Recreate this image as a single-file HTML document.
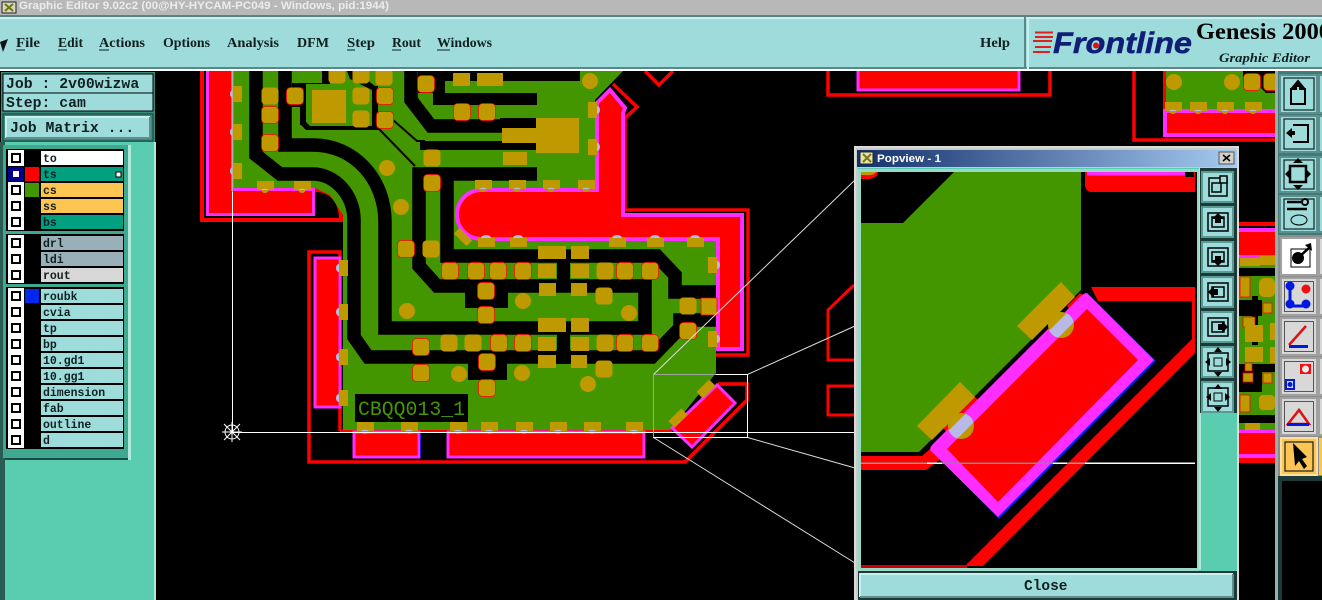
<!DOCTYPE html>
<html><head><meta charset="utf-8"><style>
html,body{margin:0;padding:0;background:#000;width:1322px;height:600px;overflow:hidden}
svg{display:block}
.m{font-family:"Liberation Mono",monospace;font-weight:bold}
.s{font-family:"Liberation Serif",serif;font-weight:bold}
.l{font-family:"Liberation Mono",monospace;font-weight:bold;font-size:11.5px;fill:#102020}
.n{font-family:"Liberation Serif",serif;font-weight:bold;font-size:14px;fill:#102020}
</style></head><body>
<svg width="1322" height="600" viewBox="0 0 1322 600" xmlns="http://www.w3.org/2000/svg">
<defs>
<rect id="p" x="-8.500" y="-8.500" width="17" height="17" rx="4" fill="#bf9900"/>
<rect id="q" x="-8.500" y="-8.500" width="17" height="17" rx="4" fill="#bf9900" stroke="#f00" stroke-width=".7"/>
<circle id="v" r="8" fill="#bf9900"/>
<g id="hb"><circle cy="3" r="4" fill="#bf9900"/><rect x="-8" y="-5" width="17" height="9" fill="#bf9900"/><path d="M-4,4 A5,3 0 0 1 4,4Z" fill="#b9b9e8"/></g>
<g id="ht"><rect x="-8" y="-5" width="17" height="9" fill="#bf9900"/><path d="M-5,-5 A5,3 0 0 1 5,-5Z" fill="#b9b9e8"/></g>
<g id="vl"><rect x="-4" y="-8" width="9" height="16" fill="#bf9900"/><path d="M-4,-4 A3,4 0 0 0 -4,4Z" fill="#b9b9e8"/></g>
<g id="vr"><rect x="-5" y="-8" width="9" height="16" fill="#bf9900"/><path d="M4,-4 A3,4 0 0 1 4,4Z" fill="#b9b9e8"/></g>
<clipPath id="strip"><path d="M1087,293 L1155,360 L998,518 L930,449Z M1087,309 L947,449 L998,502 L1138,360Z" clip-rule="evenodd"/></clipPath>
<linearGradient id="tb" x1="0" x2="1"><stop offset="0" stop-color="#14306c"/><stop offset="1" stop-color="#a6caf0"/></linearGradient>
</defs>
<rect width="1322" height="600" fill="#000"/>

<!-- BOARD top-right items -->
<path d="M645,71 L659,85 L673,71" fill="none" stroke="#f00" stroke-width="3.500"/>
<path d="M828,71 V95 H1050 V71" fill="none" stroke="#f00" stroke-width="3.500"/>
<rect x="858" y="71" width="162" height="20" fill="#f00"/>
<path d="M858,71 V90 H1019 V71" fill="none" stroke="#ff2dff" stroke-width="3"/>
<path d="M1134,71 V140 H1278" fill="none" stroke="#f00" stroke-width="3.500"/>
<rect x="1163" y="71" width="3" height="40" fill="#f00"/>
<rect x="1166" y="71" width="112" height="39" fill="#449600"/>
<path d="M1243,71 h35 v22 h-12 l-7,-7 h-16Z" fill="#000"/>
<rect x="1163" y="109" width="115" height="28" fill="#ff2dff"/>
<rect x="1167" y="113" width="111" height="20" fill="#f00"/>
<use href="#v" x="1174" y="82"/><use href="#v" x="1232" y="82"/><use href="#q" x="1252" y="82"/><use href="#q" x="1272" y="82"/>
<use href="#hb" x="1173" y="107"/><use href="#hb" x="1198" y="107"/><use href="#hb" x="1225" y="107"/><use href="#hb" x="1253" y="107"/>

<!-- Left L -->
<path d="M202,71 V220 H341 C341,200 330,190 315,190" fill="none" stroke="#f00" stroke-width="4"/>
<path d="M206,71 H234 V188 H315 V216 H206Z" fill="#f00"/>
<path d="M207.500,71 V214.500 H313.500 V189.500 H232.500 V71" fill="none" stroke="#ff2dff" stroke-width="3"/>

<!-- Red outline around bottom -->
<path d="M340,431 V252 H309 V462 H685 L747,400 V384 H718" fill="none" stroke="#f00" stroke-width="3.500"/>
<path d="M340,431 H672" stroke="#f00" stroke-width="3"/>
<path d="M613,84 L637,107 L625,118 V210 H748 V355 H716" fill="none" stroke="#f00" stroke-width="3.500"/>

<!-- Green base -->
<path d="M234,71 H623 L595,100 V188 H595 V240 H716 V373 L670,430 H343 V215 L330,195 L315,188 H234Z" fill="#449600"/>

<!-- Black traces -->
<g fill="none" stroke="#000" stroke-width="13.500" stroke-linejoin="miter">
<path d="M256,71 V155 L280,174 H313 C335,174 354,195 354,220 V337 L368,357 H652 L680,328 V320 H716"/>
<path d="M285,71 V145 H313 C355,145 385,180 385,222 V328 H645 V286 H437 L419,266 V174 H537"/>
<path d="M447,172 V256 H657 L675,275 V292 H716"/>
<path d="M411,71 V100 L431,126 H503"/>
</g>
<g fill="#000">
<rect x="418" y="71" width="162" height="10"/>
<rect x="418" y="71" width="27" height="22"/>
<rect x="433" y="93" width="104" height="12"/>
<rect x="420" y="141" width="117" height="9"/>
<rect x="557" y="256" width="13" height="34"/>
<rect x="557" y="332" width="13" height="32"/>
<rect x="465" y="290" width="43" height="18"/>
<rect x="468" y="360" width="39" height="20"/>
<rect x="292" y="83" width="14" height="24"/>
<rect x="300" y="83" width="6" height="42"/>
<path d="M300,83 H322 V71 H330 V84 H306 V122 L310,126 H378 V130 H306 L300,124Z"/>
<path d="M347,71 H355 L375,86 H378 V128 H372 V90 L350,79Z"/>
<rect x="500" y="118" width="37" height="10"/>
</g>
<g fill="none" stroke="#000" stroke-width="2">
<path d="M393,120 L417,141 H425"/>
<path d="M378,128 L415,166"/>
</g>

<!-- Pill (red+magenta) -->
<path d="M480,190 H597 V103 L610,90 L625,108 L623,113 V215 H742 V349 H718 V239 H483 A24.500,24.500 0 0 1 480,190Z" fill="#f00" stroke="#ff2dff" stroke-width="4"/>

<!-- Left strip and bottom bars -->
<rect x="315" y="258" width="25" height="149" fill="#f00" stroke="#ff2dff" stroke-width="3"/>
<rect x="354" y="432" width="65" height="25" fill="#f00" stroke="#ff2dff" stroke-width="3"/>
<rect x="448" y="432" width="196" height="25" fill="#f00" stroke="#ff2dff" stroke-width="3"/>
<path d="M420.500,432 V458 M645.500,432 V458" stroke="#2020e0"/>
<path d="M672,428 L717,385 L735,403 L692,447Z" fill="#f00" stroke="#ff2dff" stroke-width="3"/>

<!-- Pads upper -->
<use href="#v" x="387" y="168"/><use href="#v" x="401" y="207"/><use href="#v" x="407" y="311"/>
<use href="#v" x="523" y="301"/><use href="#v" x="629" y="313"/><use href="#v" x="459" y="374"/>
<use href="#v" x="522" y="373"/><use href="#v" x="588" y="384"/><use href="#v" x="590" y="81"/>
<use href="#p" x="270" y="96"/><use href="#q" x="270" y="115"/><use href="#q" x="270" y="143"/>
<use href="#q" x="295" y="96"/><use href="#p" x="361" y="96"/><use href="#p" x="361" y="119"/>
<use href="#q" x="385" y="96"/><use href="#q" x="385" y="120"/><use href="#p" x="384" y="77"/><use href="#p" x="361" y="75"/><use href="#p" x="337" y="75"/>
<use href="#q" x="426" y="84"/><use href="#q" x="462" y="112"/><use href="#q" x="487" y="112"/>
<use href="#p" x="432" y="158"/><use href="#q" x="432" y="183"/>
<use href="#q" x="406" y="249"/><use href="#p" x="431" y="249"/>
<rect x="312" y="90" width="34" height="33" fill="#bf9900"/>
<rect x="453" y="73" width="17" height="13" fill="#bf9900"/><rect x="477" y="73" width="26" height="13" fill="#bf9900"/>
<rect x="503" y="152" width="24" height="13" fill="#bf9900"/>
<path d="M502,128 H536 V118 H579 V153 H536 V143 H502Z" fill="#bf9900"/>

<!-- Row pads -->
<use href="#q" x="450" y="271"/><use href="#q" x="476" y="271"/><use href="#q" x="498" y="271"/><use href="#q" x="523" y="271"/><use href="#p" x="605" y="271"/><use href="#q" x="625" y="271"/><use href="#q" x="650" y="271"/>
<use href="#q" x="486" y="291"/><use href="#q" x="486" y="315"/><use href="#p" x="604" y="296"/>
<use href="#p" x="688" y="306"/><rect x="701" y="298" width="16" height="17" fill="#bf9900" stroke="#f00" stroke-width=".8"/><use href="#q" x="688" y="331"/>
<use href="#q" x="421" y="347"/><use href="#p" x="449" y="343"/><use href="#p" x="473" y="343"/><use href="#q" x="499" y="343"/><use href="#q" x="523" y="343"/><use href="#p" x="605" y="343"/><use href="#q" x="625" y="343"/><use href="#q" x="650" y="343"/>
<use href="#q" x="487" y="362"/><use href="#q" x="421" y="373"/><use href="#q" x="487" y="388"/><use href="#p" x="604" y="369"/>
<g fill="#bf9900">
<rect x="538" y="246" width="28" height="13"/><rect x="571" y="246" width="18" height="13"/>
<rect x="538" y="264" width="18" height="14"/><rect x="571" y="264" width="18" height="14"/>
<rect x="539" y="283" width="17" height="13"/><rect x="571" y="283" width="16" height="13"/>
<rect x="538" y="318" width="28" height="14"/><rect x="571" y="318" width="18" height="14"/>
<rect x="538" y="337" width="18" height="14"/><rect x="571" y="337" width="18" height="14"/>
<rect x="538" y="355" width="18" height="13"/><rect x="571" y="355" width="16" height="13"/>
<rect x="-9" y="-4" width="18" height="8" transform="translate(463,237) rotate(45)"/>
<rect x="-9" y="-4.500" width="18" height="9" transform="translate(678,418) rotate(-45)"/>
<rect x="-9" y="-4.500" width="18" height="9" transform="translate(706,389) rotate(-45)"/>
</g>
<!-- Edge pads -->
<use href="#vl" x="237" y="94"/><use href="#vl" x="237" y="132"/><use href="#vl" x="237" y="171"/>
<use href="#hb" x="265" y="186"/><use href="#hb" x="302" y="186"/>
<use href="#vl" x="343" y="268"/><use href="#vl" x="343" y="312"/><use href="#vl" x="343" y="357"/><use href="#vl" x="343" y="398"/>
<use href="#hb" x="365" y="427"/><use href="#hb" x="409" y="427"/><use href="#hb" x="458" y="427"/><use href="#hb" x="489" y="427"/><use href="#hb" x="524" y="427"/><use href="#hb" x="558" y="427"/><use href="#hb" x="592" y="427"/><use href="#hb" x="634" y="427"/>
<use href="#hb" x="483" y="185"/><use href="#hb" x="517" y="185"/><use href="#hb" x="551" y="185"/><use href="#hb" x="586" y="185"/>
<use href="#ht" x="486" y="243"/><use href="#ht" x="518" y="243"/><use href="#ht" x="617" y="243"/><use href="#ht" x="655" y="243"/><use href="#ht" x="695" y="243"/>
<use href="#vr" x="593" y="110"/><use href="#vr" x="593" y="147"/>
<use href="#vr" x="713" y="265"/><use href="#vr" x="713" y="339"/>

<!-- Label -->
<rect x="355" y="394" width="113" height="28" fill="#000"/>
<text x="358" y="415" font-family="Liberation Mono,monospace" font-size="20" fill="#449600" textLength="107" lengthAdjust="spacingAndGlyphs">CBQQ013_1</text>

<!-- Right board behind popup -->
<rect x="1238" y="222" width="40" height="4" fill="#f00"/>
<rect x="1238" y="228" width="40" height="30" fill="#ff2dff"/>
<rect x="1238" y="232" width="40" height="23" fill="#f00"/>
<rect x="1238" y="258" width="40" height="172" fill="#449600"/>
<path d="M1238,268 H1278 V276 H1238ZM1252,296 H1258 V345 H1252ZM1238,300 H1262 V316 H1238ZM1238,364 H1278 V372 H1262 V392 H1238ZM1238,415 H1278 V423 H1238Z" fill="#000"/>
<g fill="#bf9900">
<rect x="1240" y="258" width="20" height="8"/><rect x="1260" y="256" width="15" height="9"/>
<rect x="1240" y="277" width="10" height="20" stroke="#f00" stroke-width=".8"/><rect x="1259" y="278" width="16" height="19" rx="5"/>
<rect x="1263" y="303" width="9" height="10" stroke="#f00" stroke-width=".8"/>
<rect x="1243" y="317" width="12" height="10" stroke="#f00" stroke-width=".8"/>
<rect x="1245" y="325" width="18" height="17"/><rect x="1245" y="347" width="18" height="15"/>
<rect x="1270" y="323" width="6" height="17"/><rect x="1270" y="347" width="6" height="16"/>
<rect x="1245" y="363" width="7" height="8" stroke="#f00" stroke-width=".8"/><rect x="1243" y="373" width="10" height="9" stroke="#f00" stroke-width=".8"/>
<rect x="1263" y="373" width="9" height="10" stroke="#f00" stroke-width=".8"/>
<rect x="1240" y="395" width="10" height="17" stroke="#f00" stroke-width=".8"/><rect x="1259" y="395" width="16" height="15" rx="4"/>
<rect x="1245" y="423" width="15" height="8"/>
</g>
<rect x="1238" y="430" width="40" height="3" fill="#ff2dff"/>
<rect x="1238" y="433" width="40" height="21" fill="#f00"/>
<rect x="1238" y="454" width="40" height="4" fill="#ff2dff"/>
<rect x="1238" y="458" width="40" height="5" fill="#f00"/>

<!-- Other outline bits -->
<path d="M854,285 L828,310 V360 H854M854,386 H828 V415 H854" fill="none" stroke="#f00" stroke-width="3"/>

<!-- Guide lines -->
<g fill="none" stroke-width="1">
<path d="M232.500,71 V192" stroke="#b0b0b0"/>
<path d="M232.500,192 V433" stroke="#fff"/>
<path d="M233,432.500 H855" stroke="#fff"/>
<path d="M653.500,374.500 L855,180" stroke="#ddd"/>
<path d="M747.500,374.500 L855,326" stroke="#ddd"/>
<path d="M747.500,437.500 L855,468" stroke="#ddd"/>
<path d="M653.500,437.500 L855,563" stroke="#ddd"/>
<rect x="653.500" y="374.500" width="94" height="63" stroke="#fff"/>
<path d="M653.500,437 V374.500 H716" stroke="#98a8a0"/>
<circle cx="232" cy="432" r="7" stroke="#fff"/>
<path d="M224,424 L240,440 M240,424 L224,440 M222,432 H242 M232,422 V442" stroke="#fff"/>
</g>

<!-- Left panel -->
<rect x="0" y="70" width="155" height="530" fill="#000"/>
<rect x="1" y="72" width="154" height="70" fill="#3a8a78"/>
<rect x="0" y="142" width="155" height="458" fill="#5accb0"/>
<rect x="154" y="142" width="2" height="458" fill="#b0e8dc"/>
<rect x="0" y="142" width="5" height="458" fill="#2a5c54"/>
<rect x="128" y="145" width="3" height="315" fill="#b0e8dc"/>
<rect x="5" y="458" width="123" height="2" fill="#1e4a44"/>
<rect x="3" y="145" width="125" height="313" fill="#3fa890"/>
<rect x="3" y="74" width="150" height="19" fill="#9edcdc" stroke="#000"/>
<rect x="3" y="93" width="150" height="18" fill="#9edcdc" stroke="#000"/>
<text class="m" x="6" y="88" font-size="14.800" fill="#102020">Job : 2v00wizwa</text>
<text class="m" x="6" y="107" font-size="14.800" fill="#102020">Step: cam</text>
<rect x="3" y="114" width="150" height="27" fill="#3a8a78" stroke="#143c38"/>
<rect x="6" y="117" width="144" height="21" fill="#9edcdc"/>
<path d="M6,138 V117 H150" fill="none" stroke="#c8f0f0" stroke-width="2"/>
<path d="M150,117 V138 H6" fill="none" stroke="#5a9090" stroke-width="2"/>
<text class="m" x="10" y="132" font-size="14.800" fill="#102020">Job Matrix ...</text>

<!-- Layer groups -->
<rect x="6" y="149" width="118" height="82" fill="#000"/>
<rect x="6" y="234" width="118" height="50" fill="#000"/>
<rect x="6" y="287" width="118" height="162" fill="#000"/>
<g id="rows">
<rect x="41" y="151" width="82" height="14" fill="#fff"/><text class="l" x="43" y="162">to</text>
<rect x="41" y="167" width="82" height="14" fill="#00a080"/><text class="l" x="43" y="178">ts</text>
<rect x="41" y="183" width="82" height="14" fill="#ffc552"/><text class="l" x="43" y="194">cs</text>
<rect x="41" y="199" width="82" height="14" fill="#ffc552"/><text class="l" x="43" y="210">ss</text>
<rect x="41" y="215" width="82" height="14" fill="#00a080"/><text class="l" x="43" y="226">bs</text>
<rect x="41" y="236" width="82" height="14" fill="#9ab0b8"/><text class="l" x="43" y="247">drl</text>
<rect x="41" y="252" width="82" height="14" fill="#9ab0b8"/><text class="l" x="43" y="263">ldi</text>
<rect x="41" y="268" width="82" height="14" fill="#d8d8d8"/><text class="l" x="43" y="279">rout</text>
<rect x="41" y="289" width="82" height="14" fill="#9edcdc"/><text class="l" x="43" y="300">roubk</text>
<rect x="41" y="305" width="82" height="14" fill="#9edcdc"/><text class="l" x="43" y="316">cvia</text>
<rect x="41" y="321" width="82" height="14" fill="#9edcdc"/><text class="l" x="43" y="332">tp</text>
<rect x="41" y="337" width="82" height="14" fill="#9edcdc"/><text class="l" x="43" y="348">bp</text>
<rect x="41" y="353" width="82" height="14" fill="#9edcdc"/><text class="l" x="43" y="364">10.gd1</text>
<rect x="41" y="369" width="82" height="14" fill="#9edcdc"/><text class="l" x="43" y="380">10.gg1</text>
<rect x="41" y="385" width="82" height="14" fill="#9edcdc"/><text class="l" x="43" y="396">dimension</text>
<rect x="41" y="401" width="82" height="14" fill="#9edcdc"/><text class="l" x="43" y="412">fab</text>
<rect x="41" y="417" width="82" height="14" fill="#9edcdc"/><text class="l" x="43" y="428">outline</text>
<rect x="41" y="433" width="82" height="14" fill="#9edcdc"/><text class="l" x="43" y="444">d</text>
</g>
<g fill="none" stroke="#fff" stroke-width="3">
<rect x="9.500" y="151.500" width="13" height="13"/><rect x="9.500" y="183.500" width="13" height="13"/><rect x="9.500" y="199.500" width="13" height="13"/><rect x="9.500" y="215.500" width="13" height="13"/>
<rect x="9.500" y="236.500" width="13" height="13"/><rect x="9.500" y="252.500" width="13" height="13"/><rect x="9.500" y="268.500" width="13" height="13"/>
<rect x="9.500" y="289.500" width="13" height="13"/><rect x="9.500" y="305.500" width="13" height="13"/><rect x="9.500" y="321.500" width="13" height="13"/><rect x="9.500" y="337.500" width="13" height="13"/><rect x="9.500" y="353.500" width="13" height="13"/><rect x="9.500" y="369.500" width="13" height="13"/><rect x="9.500" y="385.500" width="13" height="13"/><rect x="9.500" y="401.500" width="13" height="13"/><rect x="9.500" y="417.500" width="13" height="13"/><rect x="9.500" y="433.500" width="13" height="13"/>
</g>
<g fill="#fff">
<rect x="13" y="155" width="6" height="6"/><rect x="13" y="187" width="6" height="6"/><rect x="13" y="203" width="6" height="6"/><rect x="13" y="219" width="6" height="6"/>
<rect x="13" y="240" width="6" height="6"/><rect x="13" y="256" width="6" height="6"/><rect x="13" y="272" width="6" height="6"/>
<rect x="13" y="293" width="6" height="6"/><rect x="13" y="309" width="6" height="6"/><rect x="13" y="325" width="6" height="6"/><rect x="13" y="341" width="6" height="6"/><rect x="13" y="357" width="6" height="6"/><rect x="13" y="373" width="6" height="6"/><rect x="13" y="389" width="6" height="6"/><rect x="13" y="405" width="6" height="6"/><rect x="13" y="421" width="6" height="6"/><rect x="13" y="437" width="6" height="6"/>
</g>
<rect x="8" y="167" width="15" height="14" fill="#00008c"/><rect x="13" y="171" width="6" height="6" fill="#fff"/>
<rect x="25" y="167" width="14" height="14" fill="#f00"/>
<rect x="25" y="183" width="14" height="14" fill="#449600"/>
<rect x="25" y="289" width="14" height="14" fill="#0028f0"/>
<rect x="116" y="172" width="5" height="5" fill="#fff" stroke="#000"/>

<!-- Top bars -->
<rect x="0" y="0" width="1322" height="15" fill="#b8b8b8"/>
<rect x="0" y="15" width="1322" height="2" fill="#5a8484"/>
<rect x="0" y="17" width="1322" height="54" fill="#9edcdc"/>
<rect x="0" y="17" width="1322" height="2" fill="#c8f0f0"/>
<rect x="0" y="67" width="1322" height="2" fill="#5a8888"/>
<rect x="0" y="69" width="1322" height="2" fill="#fff"/>
<rect x="1024" y="17" width="2" height="52" fill="#5a8888"/>
<rect x="1027" y="17" width="2" height="52" fill="#c8f0f0"/>
<rect x="2" y="2" width="14" height="11" fill="#d8d4c0" stroke="#222"/>
<path d="M5,4 L13,11 M13,4 L5,11" stroke="#6a7a10" stroke-width="2"/>
<text x="19" y="9" font-family="Liberation Sans,sans-serif" font-weight="bold" font-size="11" fill="#ececec" textLength="370" lengthAdjust="spacingAndGlyphs">Graphic Editor 9.02c2 (00@HY-HYCAM-PC049 - Windows, pid:1944)</text>
<path d="M0,42 L8,39 L3,52Z" fill="#111"/>
<text class="n" x="16" y="47" textLength="24" lengthAdjust="spacingAndGlyphs">File</text>
<text class="n" x="58" y="47" textLength="25" lengthAdjust="spacingAndGlyphs">Edit</text>
<text class="n" x="99" y="47" textLength="46" lengthAdjust="spacingAndGlyphs">Actions</text>
<text class="n" x="163" y="47" textLength="47" lengthAdjust="spacingAndGlyphs">Options</text>
<text class="n" x="227" y="47" textLength="52" lengthAdjust="spacingAndGlyphs">Analysis</text>
<text class="n" x="297" y="47" textLength="32" lengthAdjust="spacingAndGlyphs">DFM</text>
<text class="n" x="347" y="47" textLength="28" lengthAdjust="spacingAndGlyphs">Step</text>
<text class="n" x="392" y="47" textLength="29" lengthAdjust="spacingAndGlyphs">Rout</text>
<text class="n" x="437" y="47" textLength="55" lengthAdjust="spacingAndGlyphs">Windows</text>
<text class="n" x="980" y="47" textLength="30" lengthAdjust="spacingAndGlyphs">Help</text>
<path d="M16,50 h9 M58,50 h9 M99,50 h10 M347,50 h8 M392,50 h9 M437,50 h13" stroke="#102020"/>

<!-- Logo -->
<path d="M1035,32.500 H1053 M1035,37 H1053 M1033,41 H1052 M1035,47 H1051 M1033,52 H1050" stroke="#e02020" stroke-width="2"/>
<text x="1053" y="53" font-family="Liberation Sans,sans-serif" font-weight="bold" font-style="italic" font-size="30" fill="#101e78" stroke="#101e78" stroke-width=".5" textLength="139" lengthAdjust="spacingAndGlyphs">Frontline</text>
<circle cx="1096" cy="45.500" r="3" fill="#e01010"/>
<text class="s" x="1196" y="39" font-size="23" fill="#000" textLength="135" lengthAdjust="spacingAndGlyphs">Genesis 2000</text>
<text class="s" x="1219" y="62" font-size="13" font-style="italic" fill="#102020" textLength="91" lengthAdjust="spacingAndGlyphs">Graphic Editor</text>

<!-- Right toolbar -->
<rect x="1277" y="71" width="45" height="168" fill="#447a76"/>
<rect x="1277" y="235" width="45" height="243" fill="#8c8c8c"/>
<rect x="1275" y="71" width="3" height="529" fill="#9ab0ac"/>
<rect x="1278" y="476" width="44" height="5" fill="#1c3a38"/>
<rect x="1282" y="481" width="40" height="119" fill="#000"/>
<rect x="1278" y="481" width="4" height="119" fill="#1c3a38"/>
<g fill="#9edcdc" stroke="#5a9090" stroke-width="2">
<rect x="1280" y="75" width="37" height="38"/><rect x="1280" y="116" width="37" height="36"/><rect x="1280" y="157" width="37" height="35"/><rect x="1280" y="196" width="37" height="36"/>
<rect x="1319" y="75" width="5" height="38"/><rect x="1319" y="116" width="5" height="36"/><rect x="1319" y="157" width="5" height="35"/><rect x="1319" y="196" width="5" height="36"/>
</g>
<g fill="#d8d8d8" stroke="#a0a0a0" stroke-width="2">
<rect x="1281" y="278" width="36" height="37"/><rect x="1281" y="318" width="36" height="37"/><rect x="1281" y="358" width="36" height="37"/><rect x="1281" y="398" width="36" height="37"/>
<rect x="1319" y="238" width="5" height="37"/><rect x="1319" y="278" width="5" height="37"/><rect x="1319" y="318" width="5" height="37"/><rect x="1319" y="358" width="5" height="37"/><rect x="1319" y="398" width="5" height="37"/>
</g>
<rect x="1281" y="238" width="36" height="37" fill="#fff" stroke="#a0a0a0" stroke-width="2"/>
<rect x="1281" y="438" width="36" height="37" fill="#ffc552" stroke="#ffe0a0" stroke-width="2"/>
<rect x="1319" y="438" width="5" height="37" fill="#ffc552"/>
<g fill="none" stroke="#102020" stroke-width="1.200">
<rect x="1284" y="78" width="30" height="32"/><rect x="1284" y="119" width="30" height="30"/><rect x="1284" y="160" width="30" height="29"/><rect x="1284" y="199" width="30" height="30"/>
<rect x="1285" y="442" width="28" height="29"/>
</g>
<g fill="none" stroke="#555" stroke-width="1">
<rect x="1284.500" y="281.500" width="29" height="30"/><rect x="1284.500" y="321.500" width="29" height="30"/><rect x="1284.500" y="361.500" width="29" height="30"/><rect x="1284.500" y="401.500" width="29" height="30"/>
</g>
<g fill="#000">
<path d="M1298,81 l5,6 h-3 v2 h5 v15 h-14 v-15 h5 v-2 h-3Z" fill="none" stroke="#000" stroke-width="2"/>
<path d="M1298,81 l5,6 h-10Z"/>
<path d="M1286,133 l6,-5 v3 h3 v4 h-3 v3Z"/><path d="M1293,125 h15 v17 h-15" fill="none" stroke="#000" stroke-width="2"/>
<rect x="1290" y="166" width="16" height="16" fill="none" stroke="#000" stroke-width="2.500"/>
<path d="M1298,158 l5,5 h-10Z M1298,190 l5,-5 h-10Z M1285,174 l5,-5 v10Z M1311,174 l-5,-5 v10Z"/>
<path d="M1287,202 h14 M1287,209 h20" stroke="#000" stroke-width="2.500"/><circle cx="1305" cy="202" r="3" fill="none" stroke="#000" stroke-width="2"/>
<ellipse cx="1299" cy="220" rx="8" ry="5" fill="none" stroke="#000"/>
<rect x="1291" y="249" width="19" height="18" fill="none" stroke="#000"/>
<circle cx="1298" cy="258" r="6"/><path d="M1298,258 L1310,247" stroke="#000" stroke-width="2.500"/><path d="M1311,243 l1,8 l-7,-6Z"/>
<path d="M1293,443 L1295,466 L1299,461 L1304,469 L1307,466 L1302,459 L1307,457Z"/>
</g>
<g>
<path d="M1290,286 V306 H1306 M1290,306" fill="none" stroke="#0018e0" stroke-width="3"/>
<circle cx="1290" cy="286" r="4.500" fill="#0018e0"/><circle cx="1290" cy="304" r="4.500" fill="#0018e0"/><circle cx="1306" cy="304" r="4.500" fill="#0018e0"/><circle cx="1306" cy="289" r="4.500" fill="#f01010"/>
<path d="M1289,345 L1306,326" stroke="#e01010" stroke-width="2.500"/><rect x="1289" y="345" width="19" height="3" fill="#0018e0"/>
<rect x="1300" y="364" width="11" height="10" fill="#f01010"/><circle cx="1305.500" cy="369" r="3.500" fill="#eee"/>
<rect x="1285" y="379" width="10" height="11" fill="#0018e0"/><rect x="1287" y="381" width="6" height="7" fill="#ddd"/><circle cx="1290" cy="384.500" r="2.500" fill="#0018e0"/>
<path d="M1288,424 L1299,410 L1309,424Z" fill="none" stroke="#e01010" stroke-width="2.500"/><rect x="1287" y="423" width="22" height="3" fill="#0018e0"/>
</g>

<!-- Popup -->
<rect x="854" y="146" width="385" height="454" fill="#d4d0c8"/>
<rect x="855" y="147" width="383" height="453" fill="#c8ccc8" stroke="#e8e8e8"/>
<rect x="857" y="150" width="380" height="17" fill="url(#tb)"/>
<rect x="860" y="152" width="13" height="12" fill="#e8e4b0" stroke="#222"/>
<path d="M863,154 L871,162 M871,154 L863,162" stroke="#7a7a10" stroke-width="2"/>
<text x="877" y="162" font-family="Liberation Sans,sans-serif" font-weight="bold" font-size="11" fill="#fff" textLength="64" lengthAdjust="spacingAndGlyphs">Popview - 1</text>
<rect x="1219" y="152" width="15" height="12" fill="#d4d0c8" stroke="#555"/>
<path d="M1223,155 L1230,161 M1230,155 L1223,161" stroke="#000" stroke-width="1.500"/>
<rect x="858" y="168" width="379" height="432" fill="#5accb0"/>
<rect x="858" y="169" width="341" height="402" fill="#9ad8c8"/>
<rect x="861" y="172" width="336" height="396" fill="#000"/>

<!-- Popup content -->
<svg x="861" y="172" width="336" height="396" viewBox="861 172 336 396">
<path d="M861,172 H878 A10,7 0 0 1 868,179 H861Z" fill="#f00"/>
<path d="M861,172 H876 A8,4 0 0 1 866,175 H861Z" fill="#bf9900"/>
<path d="M861,223 H903 L954,172 H1081 V290 L919,452 H861Z" fill="#449600"/>
<path d="M1085,172 H1195 V192 H1092 Q1085,192 1085,184Z" fill="#f00"/>
<rect x="1087" y="172" width="99" height="3.500" fill="#ff2dff"/>
<rect x="1185" y="172" width="9" height="5" fill="#000"/>
<path d="M1091,287 H1195 V301 H1098Z" fill="#f00"/>
<rect x="1192" y="300" width="3" height="40" fill="#f00"/>
<path d="M965,566 L1195,336 V353 L983,566Z" fill="#f00"/>
<rect x="861" y="565" width="106" height="3" fill="#c00"/>
<path d="M861,456 H922 L930,449 L942,458 L926,470 H861Z" fill="#f00"/>
<path d="M1087,286 L926,447 L919,452 H926 L1092,288Z" fill="#000"/>
<path d="M1067,306 L1080,293 L1090,300 L1075,316Z M943,428 L975,397 L982,403 L950,436Z" fill="#f00"/>
<path d="M1088,294 L1156,361 L999,519 L931,450Z" fill="#0028f0"/>
<path d="M1087,293 Q1084,293 1081,296 L933,444 Q928,449 932,452 L998,517 L1154,360Z" fill="#ff2dff"/>
<path d="M1087,309 L947,449 L998,502 L1138,360Z" fill="#f00"/>
<path d="M1061,282 L1075,297 L1032,340 L1017,326Z" fill="#bf9900"/>
<circle cx="1061" cy="325" r="13" fill="#bf9900"/>
<path d="M960,382 L975,397 L932,440 L917,426Z" fill="#bf9900"/>
<circle cx="961" cy="426" r="13" fill="#bf9900"/>
<g clip-path="url(#strip)"><circle cx="1061" cy="325" r="13" fill="#b9b9e8"/><circle cx="961" cy="426" r="13" fill="#b9b9e8"/></g>
<rect x="861" y="462.500" width="334" height="1.500" fill="#fff"/>
<rect x="861" y="462.500" width="66" height="1.500" fill="#999"/>
<rect x="942" y="462.500" width="111" height="1.500" fill="#888"/>
<rect x="1067" y="462.500" width="18" height="1.500" fill="#999"/>
</svg>

<!-- Popup right toolbar -->
<rect x="1199" y="168" width="38" height="402" fill="#5accb0"/>
<rect x="1199" y="168" width="2" height="402" fill="#b0e8dc"/>
<rect x="1200" y="168" width="37" height="245" fill="#1c3a38"/>
<g fill="#9edcdc" stroke="#5a9a92" stroke-width="2">
<rect x="1202" y="172" width="31" height="30"/><rect x="1202" y="207" width="31" height="30"/><rect x="1202" y="242" width="31" height="30"/><rect x="1202" y="277" width="31" height="30"/><rect x="1202" y="312" width="31" height="30"/><rect x="1202" y="347" width="31" height="30"/><rect x="1202" y="382" width="31" height="30"/>
</g>
<g fill="none" stroke="#000" stroke-width="1.500">
<rect x="1209" y="178" width="18" height="18"/><rect x="1208" y="213" width="20" height="18"/><rect x="1208" y="248" width="20" height="18"/><rect x="1208" y="283" width="20" height="18"/><rect x="1208" y="318" width="20" height="18"/><rect x="1208" y="353" width="20" height="18"/><rect x="1208" y="388" width="20" height="18"/>
<rect x="1220" y="176" width="7" height="7" fill="#9edcdc"/>
<rect x="1212" y="217" width="12" height="10"/><rect x="1212" y="252" width="12" height="10"/><rect x="1212" y="287" width="12" height="10"/><rect x="1212" y="322" width="12" height="10"/><rect x="1212" y="183" width="9" height="9"/>
</g>
<g fill="#000">
<path d="M1218,213 l6,6 h-3 v4 h-6 v-4 h-3Z"/>
<path d="M1218,266 l6,-6 h-3 v-4 h-6 v4 h-3Z"/>
<path d="M1208,292 l6,-6 v3 h4 v6 h-4 v3Z"/>
<path d="M1228,327 l-6,-6 v3 h-4 v6 h4 v3Z"/>
<path d="M1218,347 l4,5 h-8Z M1218,377 l4,-5 h-8Z M1205,362 l5,-4 v8Z M1231,362 l-5,-4 v8Z"/>
<path d="M1218,384 l4,5 h-8Z M1218,412 l4,-5 h-8Z M1206,397 l5,-4 v8Z M1230,397 l-5,-4 v8Z"/>
</g>
<rect x="1214" y="358" width="8" height="8" fill="#9edcdc" stroke="#000"/>
<rect x="1214" y="393" width="8" height="8" fill="#9edcdc" stroke="#000"/>

<!-- Close -->
<rect x="858" y="571" width="379" height="29" fill="#1c3a38"/>
<rect x="860" y="574" width="373" height="23" fill="#9edcdc"/>
<path d="M860,597 V574 H1233" fill="none" stroke="#c8f0f0" stroke-width="2"/>
<path d="M1233,574 V597 H860" fill="none" stroke="#5a9090" stroke-width="2"/>
<text class="m" x="1024" y="590" font-size="14.500" fill="#102020">Close</text>
</svg>
</body></html>
